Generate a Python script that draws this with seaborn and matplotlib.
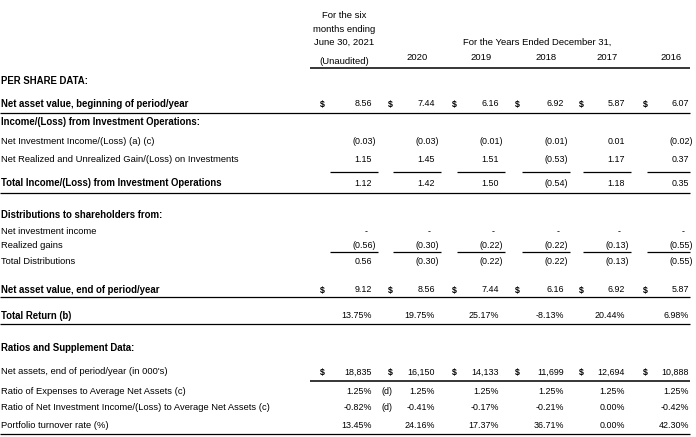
import matplotlib
matplotlib.use("Agg")
import matplotlib.pyplot as plt
import seaborn as sns

# ---------------- data ----------------
year_labels = ["2020", "2019", "2018", "2017", "2016"]
nav_begin = [8.56, 7.44, 6.16, 6.92, 5.87, 6.07]
net_inv_income = [-0.03, -0.03, -0.01, -0.01, 0.01, -0.02]
realized_gain = [1.15, 1.45, 1.51, -0.53, 1.17, 0.37]
total_ops = [1.12, 1.42, 1.50, -0.54, 1.18, 0.35]
dist_net_inv = [None, None, None, None, None, None]
dist_realized = [-0.56, -0.30, -0.22, -0.22, -0.13, -0.55]
total_dist = [0.56, -0.30, -0.22, -0.22, -0.13, -0.55]
nav_end = [9.12, 8.56, 7.44, 6.16, 6.92, 5.87]
total_return = [13.75, 19.75, 25.17, -8.13, 20.44, 6.98]
net_assets = [18835, 16150, 14133, 11699, 12694, 10888]
expense_ratio = [1.25, 1.25, 1.25, 1.25, 1.25, 1.25]
nii_ratio = [-0.82, -0.41, -0.17, -0.21, 0.00, -0.42]
turnover = [13.45, 24.16, 17.37, 36.71, 0.00, 42.30]

# ---------------- style ----------------
sns.set_theme(style="white")
plt.rcParams["font.family"] = ["Liberation Sans", "DejaVu Sans"]
FS = 6.4       # numbers
FS_HEAD = 6.8  # header
FS_LAB = 6.75  # row labels
FS_BOLD = 6.9  # bold row labels

fig = plt.figure(figsize=(6.96, 4.37), dpi=100)
ax = fig.add_axes([0, 0, 1, 1])
ax.set_xlim(0, 696)
ax.set_ylim(437, 0)
ax.axis("off")

R = [372, 435, 499, 564, 625, 689]      # right edge of value columns
D = [320, 388, 452, 515, 579, 643]      # dollar sign positions
LX = 1


def txt(x, y, s, ha="left", bold=False, fs=FS):
    ax.text(x, y, s, ha=ha, va="center", fontsize=fs,
            fontweight="bold" if bold else "normal", color="black")


def label(y, s, bold=False):
    txt(LX, y, s, bold=bold, fs=FS_BOLD if bold else FS_LAB)


def fmt_money(v):
    if v is None:
        return "-"
    if v < 0:
        return "(%.2f)" % (-v)
    return "%.2f" % v


def value_row(y, vals, kind="money", dollar=False):
    for i, v in enumerate(vals):
        if kind == "money":
            s = fmt_money(v)
            if s.endswith(")"):
                txt(R[i] + 4, y, s, ha="right")
            elif s == "-":
                txt(R[i] - 4, y, s, ha="right")
            else:
                txt(R[i], y, s, ha="right")
        elif kind == "pct":
            txt(R[i], y, "%.2f%%" % v, ha="right")
        elif kind == "int":
            txt(R[i], y, "{:,}".format(v), ha="right")
        if dollar:
            txt(D[i], y, "$", bold=True)


def hline(y, x0=0, x1=690, lw=0.9):
    ax.plot([x0, x1], [y, y], color="black", lw=lw, solid_capstyle="butt")


def col_lines(y):
    for r in R:
        hline(y, r - 42, min(r + 6, 690))


# ---------------- header ----------------
txt(344, 16, "For the six", ha="center", fs=FS_HEAD)
txt(344, 29, "months ending", ha="center", fs=FS_HEAD)
txt(344, 42, "June 30, 2021", ha="center", fs=FS_HEAD)
txt(537, 42, "For the Years Ended December 31,", ha="center", fs=FS_HEAD)
txt(344, 62, "(Unaudited)", ha="center", fs=FS_HEAD)
for i, yl in enumerate(year_labels):
    txt(R[i + 1] - 7, 58, yl, ha="right", fs=FS_HEAD)
hline(68, 310, 690, lw=1.1)

# ---------------- per share data ----------------
label(81, "PER SHARE DATA:", bold=True)

label(104, "Net asset value, beginning of period/year", bold=True)
value_row(104, nav_begin, dollar=True)
hline(113)

label(122, "Income/(Loss) from Investment Operations:", bold=True)
label(141, "Net Investment Income/(Loss) (a) (c)")
value_row(141, net_inv_income)
label(159, "Net Realized and Unrealized Gain/(Loss) on Investments")
value_row(159, realized_gain)
col_lines(172)
label(183, "Total Income/(Loss) from Investment Operations", bold=True)
value_row(183, total_ops)
hline(193)

label(215, "Distributions to shareholders from:", bold=True)
label(232, "Net investment income")
value_row(232, dist_net_inv)
label(246, "Realized gains")
value_row(246, dist_realized)
col_lines(252)
label(261, "Total Distributions")
value_row(261, total_dist)

label(290, "Net asset value, end of period/year", bold=True)
value_row(290, nav_end, dollar=True)
hline(297)

label(316, "Total Return (b)", bold=True)
value_row(316, total_return, kind="pct")
hline(324)

# ---------------- ratios ----------------
label(348, "Ratios and Supplement Data:", bold=True)
label(372, "Net assets, end of period/year (in 000's)")
value_row(372, net_assets, kind="int", dollar=True)
hline(381, 310, 690, lw=1.1)
label(391, "Ratio of Expenses to Average Net Assets (c)")
value_row(391, expense_ratio, kind="pct")
txt(381, 391, "(d)")
label(408, "Ratio of Net Investment Income/(Loss) to Average Net Assets (c)")
value_row(408, nii_ratio, kind="pct")
txt(381, 408, "(d)")
label(426, "Portfolio turnover rate (%)")
value_row(426, turnover, kind="pct")
hline(434)

fig.savefig("out.png", dpi=100)
